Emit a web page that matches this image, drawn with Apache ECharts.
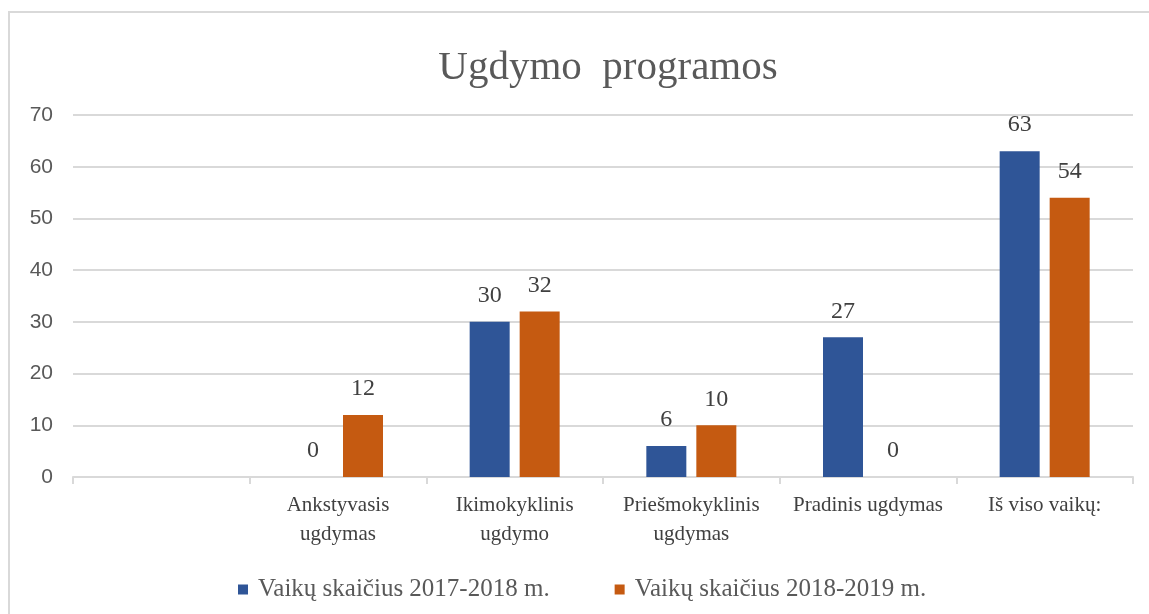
<!DOCTYPE html>
<html>
<head>
<meta charset="utf-8">
<script src="https://cdn.jsdelivr.net/npm/echarts@6/dist/echarts.min.js"></script>
<style>
  html, body { margin: 0; padding: 0; background: #fff; }
  #chart { width: 1149px; height: 614px; }
</style>
</head>
<body>
<div id="chart"></div>
<script>
// duomenys
const categories = [
  "",
  "Ankstyvasis\nugdymas",
  "Ikimokyklinis\nugdymo",
  "Priešmokyklinis\nugdymas",
  "Pradinis ugdymas",
  "Iš viso vaikų:",
];
const seriesNames = ["Vaikų skaičius 2017-2018 m.", "Vaikų skaičius 2018-2019 m."];
const values2017 = [null, 0, 30, 6, 27, 63];
const values2018 = [null, 12, 32, 10, 0, 54];
const yTicks = [0, 10, 20, 30, 40, 50, 60, 70];

const serif = "'Liberation Serif', 'Times New Roman', serif";
const sans = "'Liberation Sans', Arial, sans-serif";

const chart = echarts.init(document.getElementById("chart"));

const labelStyle = {
  show: true,
  position: "top",
  distance: 14,
  fontFamily: serif,
  fontSize: 24,
  color: "#404040",
};

const option = {
  animation: false,
  graphic: [
    {
      type: "rect",
      shape: { x: 9, y: 12, width: 1160, height: 640 },
      style: { fill: "none", stroke: "#d9d9d9", lineWidth: 2 },
      silent: true,
    },
  ],
  title: {
    text: "Ugdymo  programos",
    left: 603,
    top: 43,
    textAlign: "center",
    textStyle: {
      fontFamily: serif,
      fontWeight: "normal",
      fontSize: 41,
      color: "#595959",
    },
  },
  legend: {
    left: 233,
    top: 572,
    itemWidth: 10,
    itemHeight: 10,
    itemGap: 65,
    icon: "rect",
    textStyle: {
      fontFamily: serif,
      fontSize: 25,
      color: "#595959",
      padding: [0, 0, 0, 5],
    },
    data: seriesNames,
  },
  grid: {
    left: 73,
    right: 16,
    top: 115,
    bottom: 137,
  },
  xAxis: {
    type: "category",
    data: categories,
    axisLine: { lineStyle: { color: "#d9d9d9", width: 2 } },
    axisTick: { show: true, length: 7, lineStyle: { color: "#d9d9d9", width: 2 } },
    axisLabel: {
      interval: 0,
      margin: 14,
      fontFamily: serif,
      fontSize: 21,
      lineHeight: 29,
      color: "#404040",
    },
  },
  yAxis: {
    type: "value",
    min: yTicks[0],
    max: yTicks[yTicks.length - 1],
    interval: 10,
    axisLine: { show: false },
    axisTick: { show: false },
    axisLabel: {
      margin: 20,
      fontFamily: sans,
      fontSize: 21,
      color: "#595959",
    },
    splitLine: { lineStyle: { color: "#d9d9d9", width: 2 } },
  },
  series: [
    {
      name: seriesNames[0],
      type: "bar",
      data: values2017,
      barWidth: 40,
      barGap: "25%",
      itemStyle: { color: "#2F5597" },
      label: labelStyle,
    },
    {
      name: seriesNames[1],
      type: "bar",
      data: values2018,
      barWidth: 40,
      itemStyle: { color: "#C55A11" },
      label: labelStyle,
    },
  ],
};

chart.setOption(option);
</script>
</body>
</html>
